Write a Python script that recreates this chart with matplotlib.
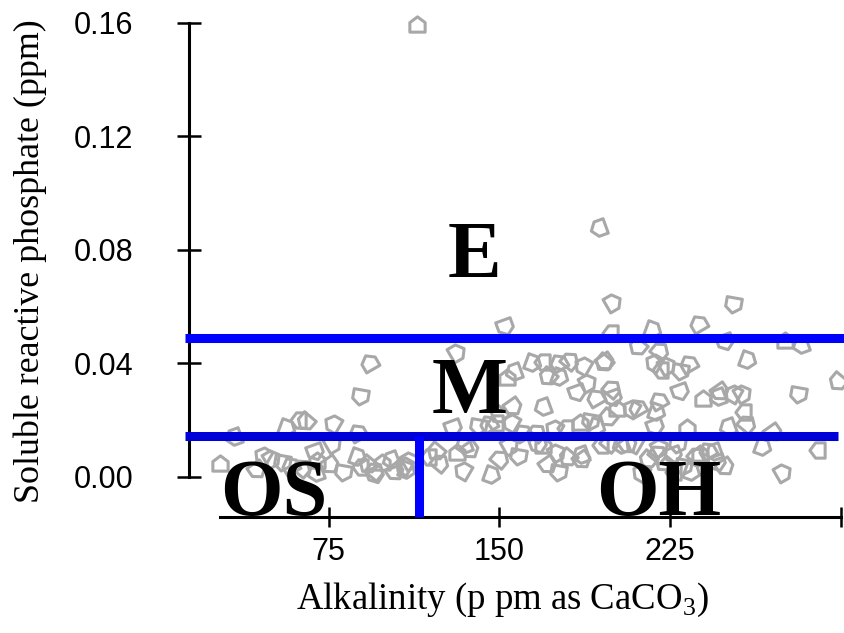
import matplotlib
matplotlib.use("Agg")
import matplotlib.pyplot as plt
from matplotlib.markers import MarkerStyle
from matplotlib.path import Path
from matplotlib.transforms import Affine2D

# ---- data ----
alkalinity = [27.2, 33.0, 43.5, 45.7, 50.1, 54.5, 58.0, 56.7, 61.5, 64.6,
              63.3, 69.0, 69.9, 69.0, 75.6, 76.5, 76.9, 81.3, 87.4, 87.9,
              88.8, 91.8, 95.4, 95.4, 98.4, 101.9, 104.1, 107.7, 110.7, 88.8,
              92.7, 109.4, 118.6, 121.7, 123.9, 129.6, 131.4, 134.0, 137.1, 133.6,
              131.4, 140.6, 145.0, 146.8, 148.1, 149.4, 150.3, 152.5, 153.4, 156.0,
              156.0, 154.7, 154.7, 158.2, 160.0, 164.8, 168.7, 170.9, 166.5, 167.0,
              169.2, 168.7, 171.4, 173.6, 175.3, 175.8, 175.8, 176.7, 178.9, 179.7,
              181.0, 184.1, 185.4, 185.4, 186.3, 186.3, 189.0, 189.8, 192.0, 192.9,
              194.2, 195.5, 198.6, 199.9, 201.7, 203.0, 206.5, 207.4, 199.9, 252.7,
              237.3, 217.5, 198.6, 210.5, 220.6, 249.2, 275.5, 282.1, 196.4, 217.5,
              223.7, 229.4, 232.9, 259.3, 220.6, 298.4, 199.5, 229.4, 239.5, 245.6,
              247.0, 252.2, 257.1, 281.2, 210.5, 219.3, 257.1, 197.3, 258.8, 218.4,
              232.5, 250.0, 270.2, 208.7, 220.6, 228.1, 241.2, 265.9, 289.6, 214.9,
              219.7, 226.3, 238.2, 243.9, 249.2, 211.8, 274.6, 230.7, 219.7, 234.7,
              226.3, 221.9, 236.9, 245.6, 113.8, 193.3]
phosphate = [0.0048, 0.0140, 0.0024, 0.0076, 0.0066, 0.0048, 0.0041, 0.0172, 0.0200, 0.0193,
             0.0034, 0.0087, 0.0059, 0.0013, 0.0041, 0.0189, 0.0119, 0.0013, 0.0158, 0.0069,
             0.0034, 0.0041, 0.0024, 0.0006, 0.0052, 0.0059, 0.0017, 0.0041, 0.0059, 0.0281,
             0.0404, 0.0024, 0.0069, 0.0087, 0.0052, 0.0172, 0.0087, 0.0112, 0.0094, 0.0024,
             0.0439, 0.0175, 0.0189, 0.0006, 0.0189, 0.0217, 0.0066, 0.0528, 0.0351, 0.0369,
             0.0246, 0.0193, 0.0112, 0.0069, 0.0158, 0.0401, 0.0404, 0.0351, 0.0158, 0.0112,
             0.0112, 0.0246, 0.0041, 0.0172, 0.0087, 0.0013, 0.0404, 0.0351, 0.0172, 0.0066,
             0.0411, 0.0295, 0.0193, 0.0076, 0.0059, 0.0394, 0.0334, 0.0193, 0.0281, 0.0175,
             0.0112, 0.0401, 0.0122, 0.0278, 0.0243, 0.0112, 0.0112, 0.0243, 0.0616, 0.0605,
             0.0542, 0.0517, 0.0506, 0.0457, 0.0447, 0.0475, 0.0482, 0.0464, 0.0404, 0.0404,
             0.0394, 0.0369, 0.0401, 0.0411, 0.0376, 0.0334, 0.0313, 0.0298, 0.0277, 0.0281,
             0.0298, 0.0295, 0.0295, 0.0288, 0.0246, 0.0228, 0.0228, 0.0207, 0.0189, 0.0175,
             0.0175, 0.0175, 0.0154, 0.0119, 0.0105, 0.0112, 0.0094, 0.0105, 0.0094, 0.0059,
             0.0084, 0.0076, 0.0084, 0.0087, 0.0034, 0.0017, 0.0017, 0.0034, 0.0270, 0.0017,
             0.0017, 0.0048, 0.0076, 0.0048, 0.1595, 0.0876]

alk_split = 114.5        # vertical boundary (OS | OH)
p_low = 0.0143           # lower phosphate boundary
p_high = 0.049           # upper phosphate boundary

y_ticks = [0.00, 0.04, 0.08, 0.12, 0.16]
y_tick_labels = ["0.00", "0.04", "0.08", "0.12", "0.16"]
x_ticks = [75, 150, 225, 300]
x_tick_labels = ["75", "150", "225", ""]

region_labels = ["E", "M", "OS", "OH"]
region_x = [139.3, 137.1, 51.0, 220.2]
region_y = [0.0704, 0.0224, -0.0135, -0.0135]

# ---- figure ----
W, H = 845, 633
fig = plt.figure(figsize=(W / 100, H / 100), dpi=100)
ax = fig.add_axes([189 / W, (H - 517) / H, (W - 189) / W, (517 - 16) / H])
ax.set_xlim(13.62, 301.9)
ax.set_ylim(-0.0142, 0.1624)

# house-shaped pentagon marker, shown at several orientations
house = Path([(-1, -1), (1, -1), (1, 0.25), (0, 1), (-1, 0.25), (-1, -1)],
             [Path.MOVETO, Path.LINETO, Path.LINETO, Path.LINETO, Path.LINETO, Path.CLOSEPOLY])
angles = [0, 110, 215, 60, 300, 170, 30, 250, 90, 140, 320, 200]
for i, (xv, yv) in enumerate(zip(alkalinity, phosphate)):
    m = MarkerStyle(house, transform=Affine2D().rotate_deg(angles[i % len(angles)]))
    ax.plot([xv], [yv], marker=m, ms=11, mfc="none", mec="#a8a8a8", mew=2.2,
            ls="none", zorder=2, clip_on=False)

# boundaries
ax.plot([11.9, 310], [p_high, p_high], color="#0000ff", lw=6.5,
        solid_capstyle="butt", clip_on=False, zorder=3)
ax.plot([11.9, 298.8], [p_low, p_low], color="#0000d8", lw=6.5,
        solid_capstyle="butt", clip_on=False, zorder=3)
ax.plot([alk_split, alk_split], [p_low, -0.0142], color="#0000ff", lw=6.5,
        solid_capstyle="butt", clip_on=False, zorder=3)

for lab, xv, yv in zip(region_labels, region_x, region_y):
    ax.text(xv, yv, lab, family="Liberation Serif", fontweight="bold", fontsize=58,
            ha="center", va="baseline", zorder=4)

# spines / ticks
for s in ["top", "right"]:
    ax.spines[s].set_visible(False)
ax.spines["left"].set_bounds(0, 0.16)
ax.spines["bottom"].set_bounds(27.2, 300)
ax.spines["left"].set_linewidth(2.2)
ax.spines["bottom"].set_linewidth(2.2)

ax.set_yticks(y_ticks)
ax.set_yticklabels(y_tick_labels)
ax.set_xticks(x_ticks)
ax.set_xticklabels(x_tick_labels)
ax.tick_params(axis="y", direction="inout", length=16.6, width=1.8, pad=32,
               labelsize=22)
ax.tick_params(axis="x", direction="inout", length=13.7, width=1.8, pad=7.5,
               labelsize=22)
for t in ax.get_xticklabels() + ax.get_yticklabels():
    t.set_family("Liberation Sans")

plt.rcParams["mathtext.fontset"] = "custom"
plt.rcParams["mathtext.rm"] = "Liberation Serif"
fig.text(502 / W, 1 - 600 / H, r"Alkalinity (p pm as CaCO$_{\mathrm{3}}$)",
         family="Liberation Serif", fontsize=26.5, ha="center", va="center")
fig.text(30 / W, 1 - 261 / H, "Soluble reactive phosphate (ppm)",
         family="Liberation Serif", fontsize=25.8, ha="center", va="center",
         rotation=90)

fig.savefig("out.png", dpi=100)
